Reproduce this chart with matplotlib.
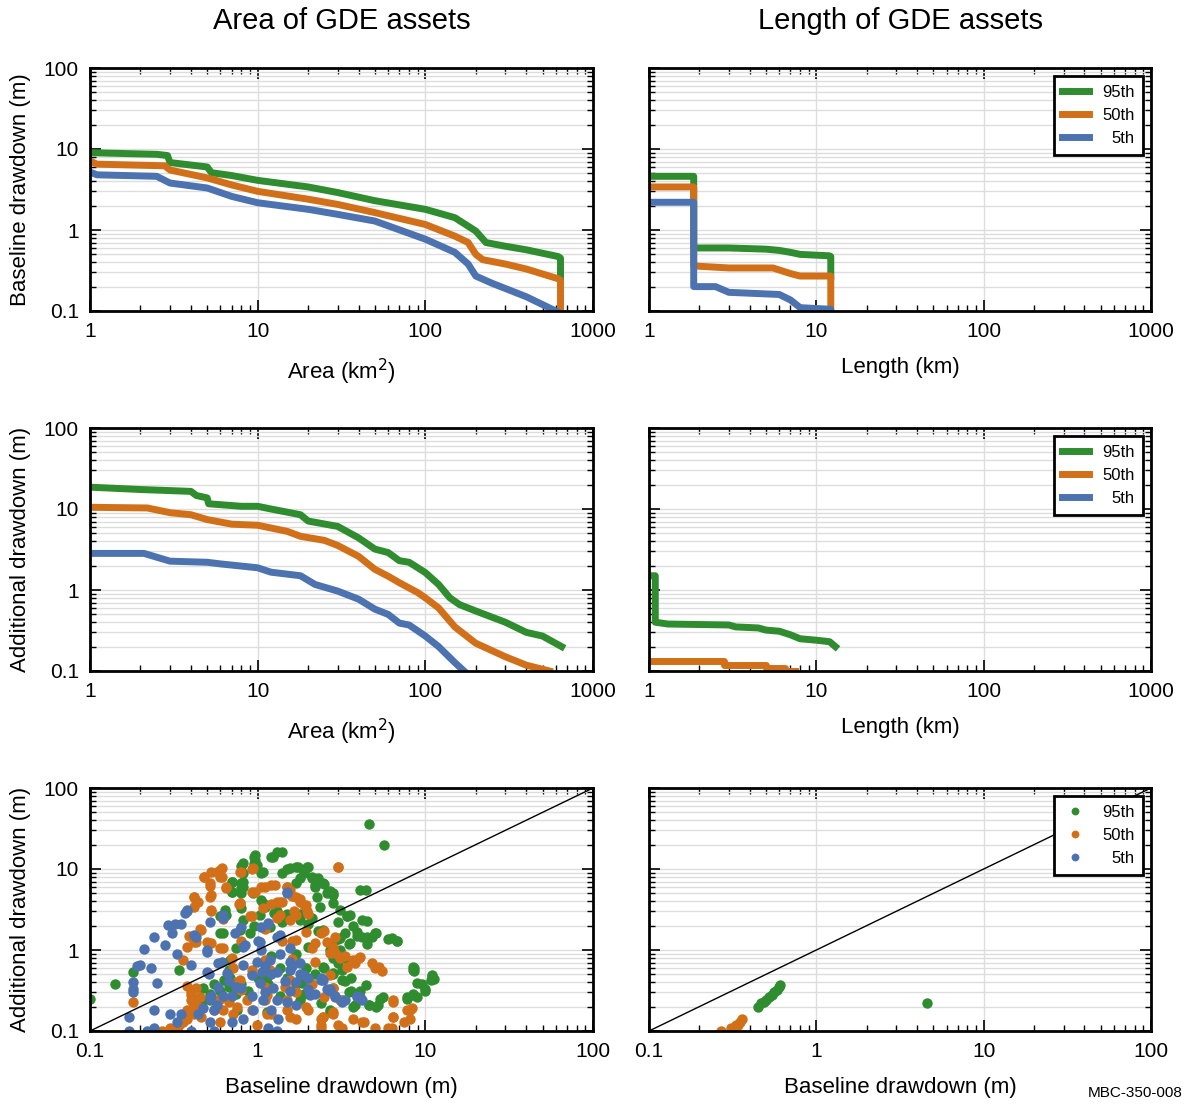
import matplotlib
matplotlib.use('Agg')
from matplotlib import pyplot as plt
from matplotlib.ticker import FixedLocator, FixedFormatter, LogLocator, NullFormatter
import numpy as np

plt.rcParams['font.family'] = ['Liberation Sans', 'DejaVu Sans']

green = '#2f8c2f'
orange = '#d2701a'
blue = '#4c72b0'
labels = ['95th', '50th', '5th']

# --- baseline drawdown vs area (exceedance curves)
area_x_95 = [1, 2.5, 2.9, 3.0, 5.0, 5.3, 7, 10, 20, 30, 50, 100, 150, 200, 230, 300, 400, 620, 640, 640]
base_area_95 = [9.0, 8.6, 8.3, 6.8, 6.0, 5.1, 4.7, 4.1, 3.4, 2.9, 2.3, 1.8, 1.42, 0.97, 0.70, 0.63, 0.57, 0.47, 0.45, 0.22]
area_x_50 = [1, 1.1, 2.8, 3.0, 5, 7, 10, 20, 30, 50, 100, 150, 180, 200, 220, 300, 400, 620, 640, 640]
base_area_50 = [7.1, 6.5, 6.2, 5.5, 4.4, 3.6, 3.0, 2.4, 2.07, 1.64, 1.17, 0.84, 0.70, 0.50, 0.43, 0.38, 0.33, 0.25, 0.24, 0.09]
area_x_5 = [1, 1.1, 2.5, 3, 5, 7, 10, 20, 30, 50, 100, 150, 180, 200, 250, 400, 600]
base_area_5 = [5.2, 4.8, 4.6, 3.8, 3.3, 2.6, 2.17, 1.8, 1.56, 1.29, 0.77, 0.53, 0.38, 0.27, 0.22, 0.15, 0.1]

# --- baseline drawdown vs length
len_x_95 = [1, 1.85, 1.85, 3, 5, 6, 7, 8, 12, 12.2, 12.2]
base_len_95 = [4.6, 4.6, 0.6, 0.6, 0.58, 0.56, 0.53, 0.5, 0.48, 0.47, 0.27]
len_x_50 = [1, 1.85, 1.85, 3, 5.5, 7, 8, 12.2, 12.2]
base_len_50 = [3.4, 3.4, 0.36, 0.34, 0.34, 0.29, 0.27, 0.27, 0.09]
len_x_5 = [1, 1.85, 1.85, 2.5, 3, 6, 7, 8, 12.2, 12.2]
base_len_5 = [2.2, 2.2, 0.2, 0.2, 0.17, 0.16, 0.137, 0.11, 0.105, 0.09]

# --- additional drawdown vs area
add_area_x_95 = [1, 2, 4, 4.3, 5, 5.1, 8, 10, 12, 18, 20, 30, 40, 50, 60, 70, 80, 100, 120, 140, 160, 200, 300, 400, 500, 650]
add_area_95 = [18.6, 17.4, 16.5, 14.7, 13.7, 11.6, 10.8, 10.8, 10.0, 8.5, 7.1, 6.1, 4.4, 3.2, 2.9, 2.3, 2.2, 1.64, 1.17, 0.8, 0.66, 0.55, 0.40, 0.30, 0.27, 0.2]
add_area_x_50 = [1, 2.2, 3, 4, 5, 7, 10, 15, 18, 25, 30, 40, 50, 60, 70, 90, 100, 120, 150, 200, 300, 400, 550]
add_area_50 = [10.5, 10.3, 9.0, 8.5, 7.4, 6.5, 6.3, 5.3, 4.6, 4.1, 3.55, 2.6, 1.8, 1.48, 1.23, 0.93, 0.8, 0.6, 0.35, 0.22, 0.15, 0.118, 0.1]
add_area_x_5 = [1, 2.1, 3, 5, 6, 10, 12, 18, 22, 30, 40, 50, 60, 70, 80, 100, 120, 150, 170]
add_area_5 = [2.83, 2.83, 2.27, 2.2, 2.1, 1.88, 1.66, 1.5, 1.17, 0.97, 0.77, 0.58, 0.50, 0.39, 0.37, 0.27, 0.20, 0.127, 0.1]

# --- additional drawdown vs length (5th is below 0.1 everywhere)
add_len_x_95 = [1, 1.09, 1.09, 1.3, 3, 3.3, 4.5, 5, 6, 7, 8, 10, 12, 13]
add_len_95 = [1.5, 1.5, 0.40, 0.38, 0.37, 0.35, 0.34, 0.32, 0.31, 0.28, 0.25, 0.24, 0.23, 0.2]
add_len_x_50 = [1, 2.8, 2.8, 5, 5, 6.5, 6.5, 7.5]
add_len_50 = [0.133, 0.133, 0.12, 0.12, 0.108, 0.108, 0.1, 0.1]

# --- scatter, area assets: baseline vs additional
sc_base_95 = [0.10, 0.14, 0.18, 0.34, 0.6, 0.6, 0.7, 0.7, 0.8, 0.8, 0.8, 0.95, 0.95, 1.05, 1.2, 1.3, 1.5, 1.7,
              1.9, 2.0, 1.8, 2.1, 2.2, 2.5, 2.7, 2.8, 4.6, 5.7, 4.4, 4.5, 3.4, 3.7, 3.0, 3.3, 3.9, 4.5, 5.0, 6.0,
              6.8, 4.5, 3.5, 3.0, 2.7, 3.0, 3.3, 2.5, 2.2, 2.8, 3.3, 4.4, 3.5, 3.8, 4.6, 5.1, 5.4, 7.8, 8.4, 8.6,
              8.6, 9.5, 10.0, 11.0, 11.2, 3.2, 2.7, 1.9, 1.7, 1.5, 1.35, 1.2, 1.1, 0.95, 0.9, 0.74, 0.67, 0.63,
              0.55, 0.52, 0.47, 0.67, 0.74, 0.8, 1.0, 1.15, 1.35, 1.7, 2.0, 2.3, 2.0, 1.8, 1.5, 1.25, 1.1, 1.05, 0.8]
sc_add_95 = [0.25, 0.38, 0.53, 0.56, 1.6, 2.6, 7.0, 5.2, 5.8, 6.8, 11.0, 14.0, 11.5, 9.0, 14.0, 16.0, 10.0, 10.5,
             9.5, 10.5, 7.8, 7.8, 6.0, 6.6, 5.4, 5.0, 36.0, 20.0, 5.5, 2.3, 2.6, 2.0, 2.2, 1.6, 1.5, 1.45, 1.6, 1.35,
             1.3, 1.2, 1.2, 1.35, 1.0, 0.7, 0.8, 0.6, 0.5, 0.5, 0.42, 0.37, 0.3, 0.21, 0.21, 0.2, 0.25, 0.25, 0.29, 0.6,
             0.55, 0.38, 0.33, 0.48, 0.44, 0.24, 0.18, 0.29, 0.38, 0.45, 0.6, 0.85, 1.9, 2.0, 1.6, 1.05, 0.56, 0.43,
             0.38, 0.29, 0.24, 0.35, 0.29, 0.38, 0.45, 0.38, 0.27, 0.9, 1.1, 1.7, 2.1, 2.8, 2.8, 2.9, 3.4, 4.1, 3.3]
sc_more_95 = [(0.62, 1.6), (0.68, 0.75), (0.64, 0.43), (0.68, 0.45), (0.6, 0.31), (0.52, 0.24), (0.47, 0.34),
              (0.75, 0.18), (1.03, 2.7), (1.18, 1.9), (1.4, 2.2), (1.8, 2.35), (2.1, 2.5), (2.45, 1.77), (2.9, 1.33),
              (2.8, 0.52), (2.45, 0.61), (1.95, 0.6), (2.8, 0.34), (2.4, 0.22), (1.8, 0.24), (1.85, 0.39),
              (1.13, 0.46), (0.87, 0.31), (0.78, 1.77), (0.82, 2.35), (2.7, 0.17), (1.13, 0.17),
              (2.8, 3.8), (3.4, 2.6), (4.2, 2.35), (3.9, 1.66), (4.2, 1.45), (4.8, 1.45), (5.1, 1.6), (6.3, 1.4),
              (6.8, 1.3), (8.4, 0.61), (8.4, 0.57), (11.0, 0.49), (10.8, 0.43), (9.9, 0.31), (8.9, 0.39),
              (8.4, 0.28), (8.9, 0.26), (7.8, 0.26), (5.6, 0.26), (5.2, 0.21), (4.6, 0.21), (3.7, 0.2), (4.1, 0.31),
              (3.6, 0.45), (3.2, 0.43), (3.2, 0.57), (3.6, 0.31), (3.1, 1.0), (3.55, 1.22), (2.8, 0.79), (3.1, 1.4),
              (0.96, 14.9), (0.96, 12.9), (1.23, 14), (1.4, 16), (0.82, 11.8), (0.99, 11.2), (0.82, 8.9),
              (1.07, 9.2), (1.55, 10.2), (1.73, 10.6), (1.98, 10.6), (1.9, 8.9), (1.4, 8.9), (2.1, 8.0), (2.3, 7.8),
              (0.7, 6.9), (0.82, 6.9), (0.82, 6.0), (0.7, 5.2), (0.8, 5.1), (0.94, 5.1), (1.7, 6.7), (2.2, 6.3),
              (2.45, 6.7), (2.6, 5.1), (2.8, 4.8), (2.25, 4.5), (2.35, 3.4), (3.1, 3.1), (4.1, 5.5), (0.64, 3.1),
              (0.65, 2.7), (1.3, 3.0), (1.07, 3.8), (3.55, 2.7)]

sc_base_50 = [0.18, 0.48, 0.53, 0.6, 0.6, 0.52, 0.52, 0.42, 0.43, 0.65, 0.78, 0.93, 0.93, 1.05, 1.2, 1.2, 1.35,
              1.5, 1.6, 1.8, 1.9, 3.0, 2.0, 1.7, 1.3, 1.1, 0.9, 0.77, 0.62, 0.45, 0.39, 0.38, 0.36, 0.42, 0.5, 0.6,
              0.7, 0.8, 1.4, 1.6, 2.1, 2.4, 2.5, 2.8, 3.1, 3.3, 3.8, 4.0, 5.0, 5.5, 6.4, 7.8, 8.3, 6.4, 7.5, 5.0,
              6.0, 4.3, 3.0, 2.4, 2.0, 2.4, 1.7, 1.5, 1.2, 1.1, 0.92, 0.8, 0.75, 0.67, 0.55, 0.42, 0.38, 0.34, 0.3,
              0.27, 0.4, 0.42, 0.38, 0.6, 0.92, 1.1, 1.45, 1.7, 2.1, 2.5, 2.8, 1.1, 1.6, 3.7]
sc_add_50 = [0.23, 7.9, 9.3, 9.6, 8.0, 6.2, 4.5, 4.5, 4.0, 5.8, 9.2, 10.0, 5.2, 6.0, 6.3, 3.7, 3.9,
             6.0, 4.7, 4.3, 3.6, 10.6, 2.8, 2.7, 2.5, 1.8, 2.6, 3.7, 2.4, 1.8, 1.5, 1.1, 0.75, 1.25, 1.25, 1.05,
             0.8, 1.3, 1.3, 1.3, 1.05, 1.6, 1.7, 1.1, 0.8, 0.85, 0.7, 0.8, 0.6, 0.55, 0.23, 0.18, 0.19, 0.15, 0.13, 0.11,
             0.11, 0.13, 0.12, 0.11, 0.18, 0.14, 0.14, 0.18, 0.16, 0.24, 0.18, 0.32, 0.4, 0.23, 0.18, 0.16, 0.14, 0.12, 0.11,
             0.1, 0.28, 0.24, 0.36, 0.25, 0.5, 0.35, 0.35, 0.3, 0.38, 0.26, 0.34, 0.75, 0.78, 0.14]
sc_more_50 = [(0.46, 1.75), (0.53, 3.0), (0.78, 3.8), (0.92, 2.6), (1.35, 2.7), (1.55, 2.35), (1.7, 1.33),
              (1.95, 1.66), (2.2, 1.22), (2.9, 0.92), (2.2, 0.71), (1.18, 0.57), (0.92, 0.57), (0.71, 0.6),
              (0.62, 1.06), (0.53, 1.22), (0.43, 1.25), (0.42, 3.4), (0.43, 0.34), (0.4, 0.24), (0.42, 0.17),
              (0.75, 0.2), (0.86, 0.24), (1.13, 0.28), (1.5, 0.24), (1.95, 0.2), (2.45, 0.15), (2.8, 0.17),
              (1.55, 0.15), (1.13, 0.16), (0.71, 0.16), (0.62, 0.18), (0.6, 0.13), (0.99, 0.12), (2.4, 0.12),
              (1.55, 0.43), (2.7, 0.49), (2.9, 1.45), (0.78, 0.43), (0.4, 0.3), (0.44, 0.2), (0.38, 0.18),
              (0.45, 0.26), (0.36, 0.13), (0.33, 0.11), (0.3, 0.1), (0.46, 0.15), (0.41, 0.22),
              (4.1, 0.82), (3.7, 0.75), (3.4, 0.61), (4.8, 0.69), (5.3, 0.61), (6.4, 0.24), (8.1, 0.18), (8.1, 0.14),
              (6.4, 0.15), (6.3, 0.11), (4.2, 0.13), (3.2, 0.11), (2.8, 0.16), (2.6, 1.25), (2.7, 0.92), (3.1, 0.82),
              (3.1, 0.24), (2.45, 0.15), (0.48, 8.0), (0.57, 9.2), (0.61, 10.2), (0.61, 8.0), (0.8, 9.2),
              (0.94, 10.2), (0.52, 6.7), (0.65, 6.0), (0.42, 4.5), (0.44, 3.9), (0.53, 4.8), (0.53, 3.1), (0.78, 3.8),
              (0.96, 5.2), (1.1, 6.0), (1.27, 6.3), (1.5, 6.0), (1.55, 5.5), (1.3, 3.9), (1.07, 3.3), (1.4, 3.9),
              (1.7, 4.5), (1.8, 3.9), (1.95, 3.6), (1.98, 3.0), (1.65, 3.0), (3.0, 10.6)]

sc_base_5 = [0.17, 0.17, 0.18, 0.18, 0.18, 0.19, 0.2, 0.21, 0.23, 0.24, 0.24, 0.25, 0.28, 0.29, 0.32, 0.35, 0.31,
             0.33, 0.37, 0.38, 0.4, 0.43, 0.5, 0.52, 0.51, 0.52, 0.58, 0.62, 0.73, 0.8, 0.82, 1.0, 1.05, 1.15, 1.3,
             1.5, 1.35, 1.55, 1.6, 1.1, 1.05, 1.2, 1.8, 1.45, 1.1, 0.92, 0.74, 0.67, 0.58, 0.55, 0.44, 0.33, 0.3,
             0.24, 0.22, 0.35, 0.4, 0.55, 0.7, 1.15, 1.3, 2.0, 2.2, 2.7, 3.3, 3.9, 4.2, 2.0, 1.7, 2.4, 1.2, 1.5]
sc_add_5 = [0.15, 0.1, 0.4, 0.33, 0.3, 0.64, 0.65, 1.02, 0.6, 1.45, 0.18, 0.39, 1.15, 2.05, 2.1, 2.1, 1.6,
            0.9, 2.9, 3.1, 0.65, 1.45, 0.95, 2.2, 0.5, 0.25, 0.7, 2.5, 1.6, 1.9, 1.1, 1.3, 1.95, 2.1, 1.45,
            5.0, 0.9, 0.72, 0.64, 0.64, 1.0, 0.5, 0.5, 0.42, 0.3, 0.27, 0.35, 0.42, 0.35, 0.18, 0.16, 0.13, 0.16,
            0.11, 0.1, 0.16, 0.1, 0.1, 0.13, 0.11, 0.1, 0.33, 0.29, 0.31, 0.24, 0.26, 0.24, 0.45, 0.4, 0.43, 0.18, 0.23]
sc_more_5 = [(0.62, 2.7), (0.42, 1.53), (0.5, 1.0), (0.84, 1.15), (1.03, 1.25), (1.15, 2.15), (1.35, 1.53),
             (1.55, 1.06), (1.18, 0.75), (0.99, 0.71), (0.82, 0.65), (0.61, 0.71), (0.5, 0.53), (0.66, 0.52),
             (0.92, 0.49), (1.06, 0.53), (1.3, 0.53), (1.55, 0.57), (1.8, 0.69), (1.9, 0.49), (2.4, 0.45),
             (2.7, 0.33), (2.05, 0.28), (1.55, 0.31), (1.23, 0.34), (1.03, 0.39), (0.8, 0.34), (0.7, 0.27),
             (0.62, 0.27), (0.53, 0.27), (0.47, 0.19), (0.57, 0.21), (0.94, 0.18), (1.07, 0.24), (1.3, 0.24),
             (1.7, 0.21), (1.32, 0.14), (0.82, 0.14), (0.52, 0.13), (2.9, 0.26), (2.6, 0.33), (2.9, 0.27),
             (3.2, 0.23), (3.9, 0.27), (4.1, 0.26), (2.45, 0.43), (0.38, 3.0), (1.5, 5.2)]

# --- scatter, length assets
sl_base_95 = [0.45, 0.47, 0.49, 0.5, 0.52, 0.54, 0.56, 0.58, 0.6, 0.61, 4.6]
sl_add_95 = [0.2, 0.22, 0.23, 0.24, 0.26, 0.28, 0.3, 0.32, 0.35, 0.37, 0.22]
sl_base_50 = [0.27, 0.28, 0.31, 0.32, 0.33, 0.34, 0.35, 0.36]
sl_add_50 = [0.1, 0.09, 0.11, 0.1, 0.12, 0.12, 0.13, 0.14]

fig = plt.figure(figsize=(11.91, 11.04), dpi=100)
lx, rx, w = 90/1191, 649/1191, 503/1191
h = 243/1104
rows = [1 - 311/1104, 1 - 671/1104, 1 - 1031/1104]


def style(ax, xlim, ylim, left_labels):
    ax.set_xscale('log')
    ax.set_yscale('log')
    ax.set_xlim(xlim)
    ax.set_ylim(ylim)
    xt = [xlim[0] * 10**i for i in range(4)]
    yt = [ylim[0] * 10**i for i in range(4)]
    fmt = lambda v: ('%g' % v)
    ax.xaxis.set_major_locator(FixedLocator(xt))
    ax.xaxis.set_major_formatter(FixedFormatter([fmt(v) for v in xt]))
    ax.yaxis.set_major_locator(FixedLocator(yt))
    if left_labels:
        ax.yaxis.set_major_formatter(FixedFormatter([fmt(v) for v in yt]))
    else:
        ax.yaxis.set_major_formatter(NullFormatter())
    ax.xaxis.set_minor_locator(LogLocator(subs=np.arange(2, 10)))
    ax.yaxis.set_minor_locator(LogLocator(subs=np.arange(2, 10)))
    ax.xaxis.set_minor_formatter(NullFormatter())
    ax.yaxis.set_minor_formatter(NullFormatter())
    ax.tick_params(which='both', direction='in', top=True, right=True, labelsize=15)
    ax.tick_params(which='major', length=8, width=1.2, pad=8)
    ax.tick_params(which='minor', length=4, width=1)
    ax.xaxis.grid(True, which='major', color='#dddddd', lw=1)
    ax.yaxis.grid(True, which='both', color='#dddddd', lw=1)
    ax.set_axisbelow(True)
    for s in ax.spines.values():
        s.set_linewidth(2)


def right_legend(ax, fig, mscale=1.0):
    leg = ax.legend(loc='upper right', fontsize=12, fancybox=False, edgecolor='k',
                    framealpha=1, handlelength=1.6, borderpad=0.5, markerscale=mscale)
    leg.get_frame().set_linewidth(2)
    return leg


def align_legend_text(leg, fig):
    # right-align the labels inside the legend box
    r = fig.canvas.get_renderer()
    ws = [t.get_window_extent(r).width for t in leg.get_texts()]
    for t, wi in zip(leg.get_texts(), ws):
        t.set_position((max(ws) - wi, 0))


lw = 5
axes = []
for i, b in enumerate(rows):
    axes.append((fig.add_axes([lx, b, w, h]), fig.add_axes([rx, b, 502/1191, h])))

# row 1
ax, ax2 = axes[0]
ax.plot(area_x_95, base_area_95, color=green, lw=lw)
ax.plot(area_x_50, base_area_50, color=orange, lw=lw)
ax.plot(area_x_5, base_area_5, color=blue, lw=lw)
ax2.plot(len_x_95, base_len_95, color=green, lw=lw, label=labels[0])
ax2.plot(len_x_50, base_len_50, color=orange, lw=lw, label=labels[1])
ax2.plot(len_x_5, base_len_5, color=blue, lw=lw, label=labels[2])
style(ax, (1, 1000), (0.1, 100), True)
style(ax2, (1, 1000), (0.1, 100), False)
ax.set_xlabel('Area (km$^2$)', fontsize=16)
ax.set_ylabel('Baseline drawdown (m)', fontsize=16)
ax2.set_xlabel('Length (km)', fontsize=16)

# row 2
ax, ax2 = axes[1]
ax.plot(add_area_x_95, add_area_95, color=green, lw=lw)
ax.plot(add_area_x_50, add_area_50, color=orange, lw=lw)
ax.plot(add_area_x_5, add_area_5, color=blue, lw=lw)
ax2.plot(add_len_x_95, add_len_95, color=green, lw=lw, label=labels[0])
ax2.plot(add_len_x_50, add_len_50, color=orange, lw=lw, label=labels[1])
ax2.plot([], [], color=blue, lw=lw, label=labels[2])
style(ax, (1, 1000), (0.1, 100), True)
style(ax2, (1, 1000), (0.1, 100), False)
ax.set_xlabel('Area (km$^2$)', fontsize=16)
ax.set_ylabel('Additional drawdown (m)', fontsize=16)
ax2.set_xlabel('Length (km)', fontsize=16)

# row 3
ax, ax2 = axes[2]
ms = 7.5
for xs, ys, more, c in [(sc_base_95, sc_add_95, sc_more_95, green),
                        (sc_base_50, sc_add_50, sc_more_50, orange),
                        (sc_base_5, sc_add_5, sc_more_5, blue)]:
    mx = [p[0] for p in more]
    my = [p[1] for p in more]
    ax.plot(xs + mx, ys + my, 'o', color=c, ms=ms, mec='none')
ax.plot([0.1, 100], [0.1, 100], color='k', lw=1, zorder=5)
ax2.plot(sl_base_95, sl_add_95, 'o', color=green, ms=ms, mec='none', label=labels[0])
ax2.plot(sl_base_50, sl_add_50, 'o', color=orange, ms=ms, mec='none', label=labels[1])
ax2.plot([], [], 'o', color=blue, ms=ms, mec='none', label=labels[2])
ax2.plot([0.1, 100], [0.1, 100], color='k', lw=1, zorder=1)
style(ax, (0.1, 100), (0.1, 100), True)
style(ax2, (0.1, 100), (0.1, 100), False)
ax.set_xlabel('Baseline drawdown (m)', fontsize=16)
ax.set_ylabel('Additional drawdown (m)', fontsize=16)
ax2.set_xlabel('Baseline drawdown (m)', fontsize=16)

for a, a2 in axes:
    a.yaxis.set_label_coords(-0.117, 0.5)
    a.xaxis.set_label_coords(0.5, -0.19)
    a2.xaxis.set_label_coords(0.5, -0.19)

legs = [right_legend(axes[0][1], fig), right_legend(axes[1][1], fig),
        right_legend(axes[2][1], fig, mscale=0.75)]
fig.canvas.draw()
for leg in legs:
    align_legend_text(leg, fig)

fig.text(342/1191, 1 - 21/1104, 'Area of GDE assets', ha='center', va='center', fontsize=21)
fig.text(900/1191, 1 - 21/1104, 'Length of GDE assets', ha='center', va='center', fontsize=21)
fig.text(1183/1191, 1 - 1093/1104, 'MBC-350-008', ha='right', va='center', fontsize=11)

plt.savefig('out.png', dpi=100)
